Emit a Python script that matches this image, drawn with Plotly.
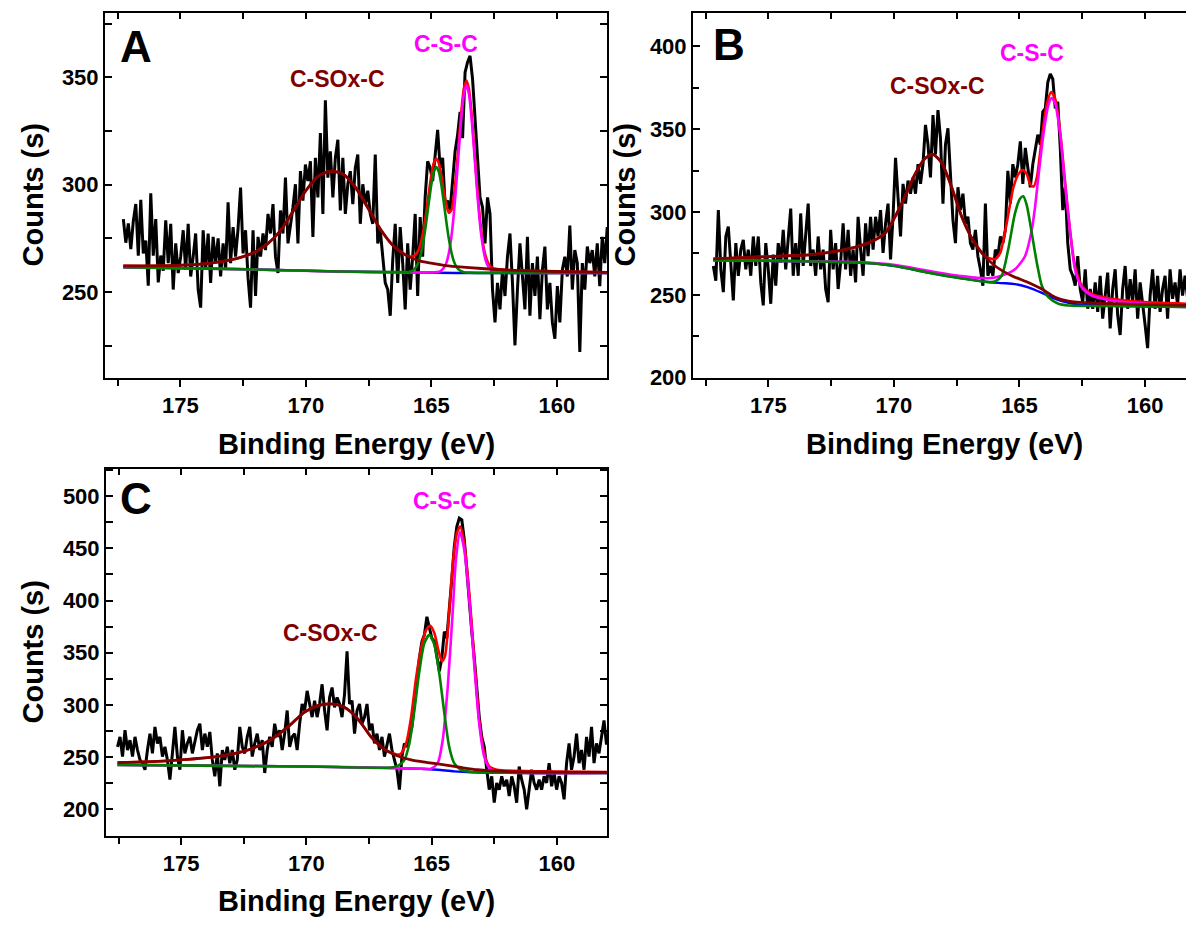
import numpy as np
import plotly.graph_objects as go

W, H = 1186, 932

# ---------------- Panel A ----------------
A_start, A_end = 177.27, 157.99
A_counts = [284, 273, 282, 270, 283, 291, 267, 293, 268, 274,
            253, 296, 267, 284, 254.5, 267, 260, 283.4, 263.5, 281.8,
            251.2, 272.7, 258.9, 266.5, 278.8, 260.4, 281.8, 257.3, 266.5, 277.3,
            251.2, 242.8, 278.8, 260.4, 277.3, 254.3, 275.7, 263.5, 275, 257.3,
            272.7, 260.4, 291.8, 263.5, 280.3, 266.5, 279.6, 298.7, 268, 278.8,
            256.6, 242.8, 278.8, 248.2, 275.7, 266.5, 277.3, 269.6, 286.4, 277.3,
            291, 266.5, 258.9, 288, 277.3, 303.3, 272.7, 280.3, 289.5, 300.2,
            272.7, 306.3, 292.6, 309.4, 301.7, 310.9, 275.7, 312.5, 294.1, 324,
            286.4, 339.3, 303.3, 315.5, 294.1, 312.5, 320.9, 288, 312.5, 286.4,
            300.2, 306.3, 291, 307.9, 314, 281.8, 300.2, 291, 297.2, 286.4,
            281.8, 314, 272.7, 278.8, 268, 254.3, 251.2, 239, 265, 281.8,
            254.3, 280.3, 263.5, 242, 272.7, 251.2, 266.5, 286.4, 248.2, 284.9,
            266.5, 294.1, 310.9, 307.9, 301.7, 315.5, 325.5, 307.9, 312.5, 291,
            292.6, 288, 303.3, 315.5, 323.2, 333.9, 321.7, 352.3, 357, 360,
            349.2, 332.4, 315.5, 294.1, 289.5, 272.7, 294.1, 286.4, 251.2, 235.9,
            254.3, 242, 260.4, 248.2, 266.5, 277.3, 254.3, 225.2, 251.2, 272.7,
            257.3, 242, 275.7, 239, 263.5, 248.2, 266.5, 237.4, 260.4, 271.2,
            242, 254.3, 235.9, 228.3, 252.8, 235.9, 260.4, 266.5, 257.3, 281,
            251.2, 269.6, 263.5, 222.1, 263.5, 251.2, 271.2, 263.5, 269.6, 257.3,
            272.7, 252.8, 275.7, 263.5, 280.3]

A_base_x = [177.27, 172.7, 168.7, 165.8, 164.0, 158.0]
A_base_y = [261.6, 260.7, 259.6, 259.2, 258.9, 258.9]

A_brown_x = [177.27, 176.0, 175.0, 174.0, 173.0, 172.5, 172.0, 171.5, 171.0, 170.5,
             170.0, 169.5, 169.0, 168.5, 168.0, 167.5, 167.0, 166.5, 166.0, 165.5,
             165.0, 164.5, 164.0, 163.0, 162.0, 160.0, 158.0]
A_brown_y = [262.2, 262.2, 262.5, 263.2, 265.0, 266.5, 268.8, 272.7, 278.8, 287.7,
             297.2, 304.0, 306.3, 304.8, 298.4, 288.7, 278.8, 271.4, 267.1, 264.7,
             263.5, 262.5, 261.9, 261.0, 260.3, 259.6, 259.2]

A_green_x = [177.27, 172.7, 168.7, 166.2, 165.9, 165.8, 165.7, 165.6, 165.5, 165.4,
             165.3, 165.2, 165.1, 165.0, 164.9, 164.8, 164.7, 164.6, 164.5, 164.4,
             164.3, 164.2, 164.1, 164.0, 163.9, 163.8, 163.7, 163.5, 158.0]
A_green_y = [261.6, 260.7, 259.6, 259.3, 259.4, 259.7, 260.4, 261.8, 264.3, 268.6,
             274.7, 282.7, 291.6, 300.0, 306.0, 308.2, 306.0, 300.0, 291.6, 282.7,
             274.7, 268.6, 264.3, 261.8, 260.4, 259.7, 259.3, 259.1, 258.9]

A_mag_x = [177.27, 172.7, 168.7, 165.0, 164.7, 164.6, 164.5, 164.4, 164.3, 164.2,
           164.1, 164.0, 163.9, 163.8, 163.7, 163.6, 163.5, 163.4, 163.3, 163.2,
           163.1, 163.0, 162.9, 162.8, 162.7, 162.6, 162.5, 162.0, 158.0]
A_mag_y = [261.6, 260.7, 259.6, 259.2, 259.5, 260.1, 261.3, 263.6, 268.2, 275.7,
           286.7, 300.9, 316.7, 331.5, 342.2, 346.1, 342.2, 331.5, 316.7, 300.9,
           286.7, 275.7, 268.2, 263.6, 261.3, 260.1, 259.5, 259.1, 258.9]

A_red_x = [177.27, 176.0, 175.0, 174.0, 173.0, 172.5, 172.0, 171.5, 171.0, 170.5,
           170.0, 169.5, 169.0, 168.5, 168.0, 167.5, 167.0, 166.5, 166.0,
           165.9, 165.8, 165.7, 165.6, 165.5, 165.4, 165.3, 165.2, 165.1, 165.0,
           164.9, 164.8, 164.7, 164.6, 164.5, 164.4, 164.3, 164.2, 164.1, 164.0,
           163.9, 163.8, 163.7, 163.6, 163.5, 163.4, 163.3, 163.2, 163.1, 163.0,
           162.9, 162.8, 162.7, 162.6, 162.5, 162.0, 160.0, 158.0]
A_red_y = [262.2, 262.2, 262.5, 263.2, 265.0, 266.5, 268.8, 272.7, 278.8, 287.7,
           297.2, 304.0, 306.3, 304.8, 298.4, 288.7, 278.8, 271.4, 267.1,
           266.7, 266.6, 266.8, 267.8, 269.8, 273.9, 279.7, 287.5, 296.1, 304.3,
           310.1, 312.1, 310.0, 304.4, 297.0, 290.5, 286.9, 288.1, 294.7, 306.3,
           320.6, 334.6, 344.9, 348.5, 344.5, 333.7, 318.8, 303.0, 288.7, 277.6,
           270.0, 265.5, 262.9, 261.6, 261.0, 260.3, 259.6, 259.2]

# ---------------- Panel B ----------------
B_start, B_end = 177.19, 158.01
B_counts = [267.4, 258.5, 301.1, 265.4, 251.6, 285.2, 291.1, 269.4, 246.6, 281.2,
            261.5, 277.3, 283.2, 265.4, 277.3, 261.5, 285.2, 267.4, 285.2, 257.5,
            243.6, 281.2, 265.4, 244.6, 274.3, 255.5, 281.2, 269.4, 289.2, 265.4,
            283.2, 302, 261.5, 281.2, 261.5, 299.1, 267.4, 289.2, 305, 267.4,
            277.3, 261.5, 285.2, 265.4, 277.3, 253.5, 245.6, 289.2, 265.4, 281.2,
            253.5, 269.4, 293.1, 265.4, 289.2, 261.5, 277.3, 257.5, 297.1, 277.3,
            261.5, 293.1, 273.3, 297.1, 277.3, 297.1, 285.2, 301.1, 275.3, 293.1,
            305, 271.4, 297.1, 332.7, 309, 285.2, 316.9, 305, 318.9, 311,
            320.8, 311, 328.8, 316.9, 328.8, 352.5, 340.6, 320.8, 358.4, 334.7,
            361.4, 344.6, 305, 340.6, 350.5, 324.8, 295.1, 281.2, 314.9, 301.1,
            311, 293.1, 297.1, 281.2, 277.3, 289.2, 273.3, 265.4, 255.5, 305,
            261.5, 267.4, 261.5, 277.3, 273.3, 285.2, 281.2, 289.2, 324.8, 305,
            328.8, 320.8, 328.8, 342.6, 316.9, 338.6, 324.8, 314.9, 328.8, 338.6,
            346.6, 340.6, 360.4, 362.4, 378.2, 383.2, 380.2, 362.4, 366.4, 338.6,
            301.1, 314.9, 281.2, 265.4, 261.5, 255.5, 273.3, 253.5, 245.6, 265.4,
            241.6, 253.5, 241.6, 257.5, 239.7, 261.5, 235.7, 249.6, 263.4, 229.8,
            253.5, 265.4, 237.7, 225.8, 253.5, 267.4, 241.6, 259.5, 245.6, 265.4,
            235.7, 257.5, 245.6, 231.8, 217.9, 249.6, 265.4, 241.6, 261.5, 239.7,
            253.5, 261.5, 235.7, 265.4, 247.6, 257.5, 243.6, 265.4, 249.6, 261.5,
            248, 255, 244, 252]

B_base_x = [177.19, 171.28, 169.95, 168.63, 167.3, 166.37, 165.71, 165.18, 164.65, 164.11,
            163.58, 163.05, 162.52, 160.66, 158.0]
B_base_y = [270.9, 269.4, 267.4, 263.4, 259.9, 257.9, 257.1, 256.5, 254.5, 251.2,
            247.6, 245.2, 244.0, 243.2, 242.6]

B_green_x = [177.19, 171.28, 169.95, 168.63, 167.3, 166.37, 165.98, 165.71, 165.45, 165.18,
             164.98, 164.85, 164.71, 164.51, 164.31, 164.11, 163.85, 163.45, 163.05, 160.66, 158.0]
B_green_y = [270.9, 269.4, 267.4, 263.4, 259.9, 257.9, 258.0, 261.5, 277.3, 299.1,
             308.0, 309.4, 304.0, 287.2, 269.4, 255.5, 248.6, 244.6, 243.6, 243.2, 242.6]

B_mag_x = [177.19, 171.28, 169.95, 168.63, 167.3, 166.24, 165.71, 165.18, 164.78, 164.51,
           164.38, 164.25, 164.05, 163.85, 163.72, 163.58, 163.38, 163.19, 162.99, 162.79,
           162.52, 162.12, 161.33, 160.0, 158.0]
B_mag_y = [270.9, 269.6, 268.0, 264.5, 261.3, 260.0, 261.5, 265.4, 273.3, 289.2,
           303.0, 320.8, 346.6, 364.4, 368.7, 365.4, 346.6, 316.9, 289.2, 265.4,
           254.5, 249.6, 246.6, 244.6, 243.5]

B_brown_x = [177.19, 175.27, 173.27, 171.95, 171.02, 170.35, 169.69, 169.16, 168.76, 168.45,
             168.1, 167.7, 167.3, 166.9, 166.5, 165.97, 165.31, 164.65, 164.11, 163.58,
             163.05, 162.0, 160.66, 158.0]
B_brown_y = [271.7, 272.9, 274.3, 277.3, 281.3, 287.2, 305.0, 322.8, 332.3, 334.7,
             329.7, 314.9, 297.1, 284.2, 275.3, 267.4, 261.5, 257.5, 253.5, 248.6,
             246.2, 245.0, 244.4, 243.5]

B_red_x = [177.19, 175.27, 173.27, 171.95, 171.02, 170.35, 169.69, 169.16, 168.76, 168.45,
           168.1, 167.7, 167.3, 166.9, 166.5, 166.37, 166.11, 165.97, 165.77, 165.51,
           165.24, 165.04, 164.87, 164.71, 164.58, 164.44, 164.31, 164.11, 163.92, 163.74,
           163.58, 163.38, 163.19, 162.99, 162.79, 162.52, 162.12, 161.33, 160.0, 158.0]
B_red_y = [271.7, 272.9, 274.3, 277.3, 281.3, 287.2, 305.0, 322.8, 332.3, 334.7,
           329.7, 314.9, 297.1, 284.2, 275.3, 273.3, 271.7, 271.5, 275.3, 293.1,
           314.9, 322.8, 325.2, 322.8, 316.9, 315.3, 320.8, 344.6, 364.4, 372.3,
           368.3, 348.5, 318.9, 289.2, 267.4, 255.5, 250.6, 247.6, 245.6, 244.5]

# ---------------- Panel C ----------------
C_start, C_end = 177.54, 158.02
C_counts = [260, 269.5, 250.6, 275.8, 256.9, 266.3, 250.6, 269.5, 256.9, 247.4,
            244.3, 238, 256.9, 272.6, 253.7, 279, 263.2, 269.5, 250.6, 260,
            247.4, 228.5, 253.7, 279, 250.6, 238, 275.8, 253.7, 263.2, 269.5,
            253.7, 266.3, 275.8, 282.1, 256.9, 272.6, 260, 274.2, 247.4, 231.7,
            253.7, 222.2, 256.9, 247.4, 260, 244.3, 256.9, 238, 247.4, 279,
            260, 253.7, 269.5, 279, 250.6, 263.2, 272.6, 256.9, 266.3, 234.9,
            256.9, 269.5, 260, 282.1, 269.5, 275.8, 256.9, 272.6, 294.7, 260,
            269.5, 272.6, 256.9, 282.1, 301, 294.7, 313.5, 301, 288.4, 304.1,
            288.4, 301, 319.8, 294.7, 275.8, 307.2, 316.7, 297.8, 307.2, 301,
            288.4, 310.4, 351.3, 301, 304.1, 272.6, 294.7, 301, 282.1, 288.4,
            301, 275.8, 282.1, 263.2, 272.6, 256.9, 269.5, 250.6, 263.2, 272.6,
            256.9, 247.4, 238, 219, 250.6, 263.2, 260, 269.5, 279, 301,
            326.1, 345, 360.7, 367.1, 384.4, 373.4, 363.9, 360.7, 345, 332.4,
            345, 370.2, 363.9, 389.1, 420.6, 452, 470.9, 478.8, 477.2, 458.3,
            426.8, 401.7, 370.2, 345, 313.5, 288.4, 269.5, 260, 238, 219,
            231.7, 206.5, 225.4, 219, 231.7, 222.2, 228.5, 212.8, 231.7, 222.2,
            206.5, 241.1, 228.5, 219, 200.2, 222.2, 238, 225.4, 219, 228.5,
            219, 231.7, 225.4, 244.3, 222.2, 234.9, 219, 231.7, 225.4, 209.7,
            244.3, 263.2, 238, 250.6, 272.6, 244.3, 256.9, 238, 269.5, 250.6,
            279, 244.3, 263.2, 253.7, 269.5, 285.2, 262]

C_base_x = [177.54, 170.07, 166.49, 165.42, 164.76, 164.1, 163.43, 158.0]
C_base_y = [242.7, 241.1, 239.6, 239.0, 238.0, 236.4, 235.5, 234.9]

C_brown_x = [177.54, 175.4, 173.4, 172.33, 171.4, 170.74, 170.07, 169.54, 169.01, 168.48,
             167.95, 167.42, 166.88, 166.35, 165.82, 165.16, 164.49, 163.83, 163.17, 162.1,
             160.11, 158.0]
C_brown_y = [244.9, 246.8, 251.2, 256.9, 267.0, 279.0, 293.1, 299.4, 301.0, 297.8,
             286.8, 269.5, 257.5, 251.2, 247.4, 244.9, 242.7, 240.2, 238.0, 236.4,
             235.8, 235.5]

C_green_x = [177.54, 170.07, 166.62, 166.35, 166.09, 165.89, 165.69, 165.49, 165.29, 165.09,
             164.89, 164.69, 164.49, 164.3, 164.1, 163.83, 163.43, 158.0]
C_green_y = [242.7, 241.1, 240.2, 241.8, 247.4, 263.2, 294.7, 332.4, 359.2, 367.1,
             357.6, 329.3, 291.5, 260.0, 244.3, 238.0, 236.1, 234.9]

C_mag_x = [177.54, 170.07, 166.49, 165.42, 165.03, 164.76, 164.56, 164.36, 164.16, 164.03,
           163.87, 163.7, 163.5, 163.3, 163.1, 162.9, 162.7, 162.4, 158.0]
C_mag_y = [242.7, 241.1, 239.6, 239.0, 239.0, 244.3, 266.3, 316.7, 389.1, 439.4,
           465.5, 448.9, 401.7, 338.7, 282.0, 250.6, 239.6, 236.4, 234.9]

C_red_x = [177.54, 175.4, 173.4, 172.33, 171.4, 170.74, 170.07, 169.54, 169.01, 168.48,
           167.95, 167.42, 166.88, 166.35, 166.22, 166.02, 165.82, 165.62, 165.42, 165.22,
           165.05, 164.89, 164.72, 164.59, 164.47, 164.3, 164.14, 163.99, 163.86, 163.7,
           163.5, 163.3, 163.1, 162.9, 162.7, 162.4, 160.5, 158.0]
C_red_y = [244.9, 246.8, 251.2, 256.9, 267.0, 279.0, 293.1, 299.4, 301.0, 297.8,
           286.8, 269.5, 257.5, 252.5, 253.7, 263.2, 288.4, 326.1, 354.5, 371.8,
           375.9, 368.6, 351.3, 341.9, 346.6, 389.1, 439.4, 464.6, 470.9, 455.2,
           408.0, 345.0, 285.2, 253.7, 241.1, 238.0, 236.4, 235.8]

# ---------------- figure ----------------
BLACK, RED, BLUE, MAG, GREEN, BROWN = "#000000", "#FF0000", "#0000FF", "#FF00FF", "#008000", "#800000"
FONT = "Liberation Sans, Arial, Helvetica, sans-serif"

fig = go.Figure()

panels = [
    dict(n=1, start=A_start, end=A_end, counts=A_counts,
         red=(A_red_x, A_red_y), base=(A_base_x, A_base_y), mag=(A_mag_x, A_mag_y),
         green=(A_green_x, A_green_y), brown=(A_brown_x, A_brown_y)),
    dict(n=2, start=B_start, end=B_end, counts=B_counts,
         red=(B_red_x, B_red_y), base=(B_base_x, B_base_y), mag=(B_mag_x, B_mag_y),
         green=(B_green_x, B_green_y), brown=(B_brown_x, B_brown_y)),
    dict(n=3, start=C_start, end=C_end, counts=C_counts,
         red=(C_red_x, C_red_y), base=(C_base_x, C_base_y), mag=(C_mag_x, C_mag_y),
         green=(C_green_x, C_green_y), brown=(C_brown_x, C_brown_y)),
]

for p in panels:
    xa = "x" if p["n"] == 1 else f"x{p['n']}"
    ya = "y" if p["n"] == 1 else f"y{p['n']}"
    ex = np.linspace(p["start"], p["end"], len(p["counts"]))
    fig.add_trace(go.Scatter(x=ex, y=p["counts"], mode="lines", xaxis=xa, yaxis=ya,
                             line=dict(color=BLACK, width=3), showlegend=False, hoverinfo="skip"))
    for key, col, w in [("red", RED, 2.6), ("base", BLUE, 2.4), ("mag", MAG, 2.6),
                        ("green", GREEN, 2.6), ("brown", BROWN, 2.8)]:
        cx, cy = p[key]
        fig.add_trace(go.Scatter(x=cx, y=cy, mode="lines", xaxis=xa, yaxis=ya,
                                 line=dict(color=col, width=w, shape="spline", smoothing=0.7),
                                 showlegend=False, hoverinfo="skip"))
    # dummy trace for top overlay axis
    fig.add_trace(go.Scatter(x=[None], y=[None], xaxis=f"x{p['n'] + 3}", yaxis=ya,
                             showlegend=False, hoverinfo="skip"))

tickfont = dict(family=FONT, size=22, color=BLACK, weight="bold")

geom = {
    1: dict(xd=[105 / W, 607 / W], yd=[1 - 383 / H, 1 - 13 / H], xr=[178, 158], yr=[210, 380], ymirror="allticks"),
    2: dict(xd=[693 / W, 1.0], yd=[1 - 383 / H, 1 - 13 / H], xr=[178, 158.37], yr=[199.8, 420.1], ymirror=False),
    3: dict(xd=[106 / W, 607 / W], yd=[1 - 847 / H, 1 - 475 / H], xr=[178, 158], yr=[174.5, 526], ymirror="allticks"),
}

layout = dict(width=W, height=H, margin=dict(l=0, r=0, t=0, b=0),
              plot_bgcolor="white", paper_bgcolor="white", showlegend=False)

for n, g in geom.items():
    xk = "xaxis" if n == 1 else f"xaxis{n}"
    yk = "yaxis" if n == 1 else f"yaxis{n}"
    ya = "y" if n == 1 else f"y{n}"
    xa = "x" if n == 1 else f"x{n}"
    layout[xk] = dict(domain=g["xd"], range=g["xr"], anchor=ya, showline=True, linecolor=BLACK,
                      linewidth=2, mirror=True, ticks="outside", ticklen=7, tickwidth=2,
                      tickcolor=BLACK, tick0=160, dtick=5, showgrid=False, zeroline=False,
                      tickfont=tickfont,
                      minor=dict(ticks="outside", tick0=160, dtick=2.5, ticklen=6, tickwidth=2,
                                 tickcolor=BLACK, showgrid=False))
    layout[yk] = dict(domain=g["yd"], range=g["yr"], anchor=xa, showline=True, linecolor=BLACK,
                      linewidth=2, mirror=g["ymirror"], ticks="inside", ticklen=7, tickwidth=2,
                      tickcolor=BLACK, tick0=0, dtick=50, showgrid=False, zeroline=False,
                      tickfont=tickfont,
                      minor=dict(ticks="inside", tick0=0, dtick=25, ticklen=6, tickwidth=2,
                                 tickcolor=BLACK, showgrid=False))
    layout[f"xaxis{n + 3}"] = dict(overlaying=xa, anchor=ya, side="top", range=g["xr"],
                                   showline=False, ticks="inside", ticklen=6, tickwidth=2,
                                   tickcolor=BLACK, tick0=160, dtick=5, showticklabels=False,
                                   showgrid=False, zeroline=False,
                                   minor=dict(ticks="inside", tick0=160, dtick=2.5, ticklen=6,
                                              tickwidth=2, tickcolor=BLACK, showgrid=False))

fig.update_layout(**layout)


def ann(text, px, py, size, color=BLACK, angle=0):
    fig.add_annotation(text=text, x=px / W, y=1 - py / H, xref="paper", yref="paper",
                       xanchor="center", yanchor="middle", showarrow=False, textangle=angle,
                       font=dict(family=FONT, size=size, color=color, weight="bold"))


# panel letters
ann("A", 135.5, 47, 44)
ann("B", 729, 45, 44)
ann("C", 136, 505, 44)
# peak labels
ann("C-SOx-C", 337.5, 80, 23, BROWN)
ann("C-S-C", 446, 45, 23, MAG)
ann("C-SOx-C", 937.7, 87, 23, BROWN)
ann("C-S-C", 1031.7, 54, 23, MAG)
ann("C-SOx-C", 330, 641, 23, BROWN)
ann("C-S-C", 445, 507.5, 23, MAG)
# axis titles
ann("Counts (s)", 33, 198, 29, angle=-90)
ann("Counts (s)", 625, 198, 29, angle=-90)
ann("Counts (s)", 33, 661, 29, angle=-90)
ann("Binding Energy (eV)", 356, 450, 29)
ann("Binding Energy (eV)", 944, 450, 29)
ann("Binding Energy (eV)", 356, 913, 29)

fig.write_html("out.html")
